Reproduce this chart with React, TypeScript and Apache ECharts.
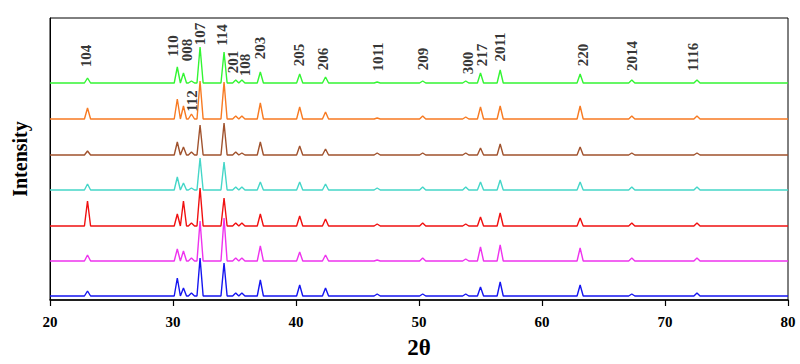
import React, { useEffect, useRef } from "react";
import * as echarts from "echarts";

// Miller-index peak positions (2θ, degrees)
const peakNames = ["104", "110", "008", "112", "107", "114", "201", "108", "203", "205", "206", "1011", "209", "300", "217", "2011", "220", "2014", "1116"];
const peakPositions = [23.05, 30.35, 30.85, 31.5, 32.2, 34.15, 35.1, 35.6, 37.1, 40.3, 42.4, 46.6, 50.3, 53.8, 55.0, 56.6, 63.1, 67.3, 72.6];

// Stacked traces, top to bottom
const sampleColors = ["#33f533", "#f77a22", "#a0522d", "#45d6c8", "#f01010", "#ee33ee", "#1515f0"];
const sampleOffsets = [217, 181, 145, 110, 74, 39, 4];
const greenHeights = [5, 16, 10, 2, 36, 31, 3, 3, 11, 9, 6, 1, 2, 2, 10, 13, 9, 3, 3];
const orangeHeights = [11, 20, 13, 5, 38, 37, 3, 3, 16, 12, 7, 1, 3, 2, 12, 13, 13, 3, 3];
const brownHeights = [4, 13, 8, 3, 30, 32, 3, 2, 13, 9, 6, 2, 2, 2, 7, 11, 8, 2, 2];
const cyanHeights = [6, 13, 7, 2, 32, 28, 3, 3, 8, 8, 6, 2, 3, 3, 8, 10, 8, 3, 3];
const redHeights = [25, 12, 25, 3, 38, 28, 3, 3, 12, 10, 7, 2, 3, 2, 9, 13, 8, 3, 3];
const magentaHeights = [6, 12, 10, 3, 40, 43, 3, 3, 15, 9, 6, 1, 3, 2, 14, 16, 13, 3, 3];
const blueHeights = [5, 18, 8, 3, 38, 33, 3, 3, 16, 11, 8, 2, 2, 2, 9, 14, 11, 2, 3];
const sampleHeights = [greenHeights, orangeHeights, brownHeights, cyanHeights, redHeights, magentaHeights, blueHeights];

// Peak label placement (2θ, intensity units)
const labelX = [22.93, 30.0, 31.14, 31.54, 32.2, 33.98, 34.88, 35.85, 37.07, 40.24, 42.2, 46.67, 50.33, 53.98, 55.12, 56.59, 63.33, 67.32, 72.28];
const labelY = [244, 254, 250, 199, 266, 265, 238, 235, 252, 245, 241, 243, 241, 237, 245, 253, 245, 244, 243];

const xTicks = [20, 30, 40, 50, 60, 70, 80];

const SERIF = "'Liberation Serif', 'Times New Roman', serif";

export default function App() {
  const ref = useRef<HTMLDivElement>(null);
  useEffect(() => {
    document.body.style.margin = "0";
    if (!ref.current) return;
    const chart = echarts.init(ref.current, null, { renderer: "svg" });
    const halfWidth = 0.25;
    const lineSeries = sampleHeights.map((hs, si) => {
      const base = sampleOffsets[si];
      const pts: number[][] = [[xTicks[0], base]];
      peakPositions.forEach((p, i) => {
        pts.push([p - halfWidth, base]);
        pts.push([p, base + hs[i]]);
        pts.push([p + halfWidth, base]);
      });
      pts.push([xTicks[xTicks.length - 1], base]);
      return {
        type: "line",
        data: pts,
        showSymbol: false,
        symbol: "none",
        lineStyle: { color: sampleColors[si], width: 1.4 },
        z: 2,
      };
    });
    const labelData = peakNames.map((n, i) => [labelX[i], labelY[i], n]);
    chart.setOption({
      animation: false,
      grid: { left: 50, right: 12, top: 18, bottom: 64, show: true, borderColor: "#000", borderWidth: 1 },
      xAxis: {
        type: "value",
        min: 20,
        max: 80,
        interval: 10,
        axisLine: { show: true, lineStyle: { color: "#000", width: 1.5 } },
        axisTick: { show: true, inside: false, length: 6, lineStyle: { color: "#000", width: 1.2 } },
        splitLine: { show: false },
        axisLabel: { color: "#000", fontFamily: SERIF, fontWeight: "bold", fontSize: 15, margin: 14 },
        name: "2θ",
        nameLocation: "middle",
        nameGap: 36,
        nameTextStyle: { color: "#000", fontFamily: SERIF, fontWeight: "bold", fontSize: 23 },
      },
      yAxis: {
        type: "value",
        min: 0,
        max: 282,
        axisLine: { show: true, lineStyle: { color: "#000", width: 1 } },
        axisTick: { show: false },
        axisLabel: { show: false },
        splitLine: { show: false },
        name: "Intensity",
        nameLocation: "middle",
        nameRotate: 90,
        nameGap: 20,
        nameTextStyle: { color: "#000", fontFamily: SERIF, fontWeight: "bold", fontSize: 20 },
      },
      series: [
        ...lineSeries,
        {
          type: "scatter",
          data: labelData,
          symbolSize: 1,
          itemStyle: { color: "rgba(0,0,0,0)" },
          label: {
            show: true,
            position: "inside",
            rotate: 90,
            formatter: (p: any) => p.data[2],
            color: "#000",
            fontFamily: SERIF,
            fontWeight: "bold",
            fontSize: 15,
          },
          z: 5,
        },
      ],
    } as any);
    return () => chart.dispose();
  }, []);
  return <div ref={ref} style={{ width: 800, height: 364 }} />;
}
